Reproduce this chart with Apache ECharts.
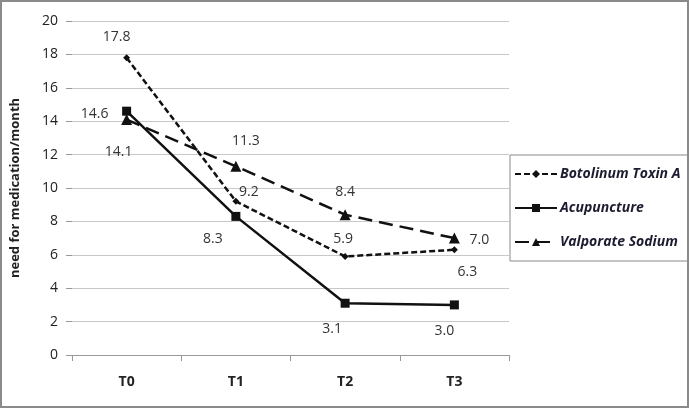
<!DOCTYPE html>
<html>
<head>
<meta charset="utf-8">
<script src="https://cdn.jsdelivr.net/npm/echarts@6/dist/echarts.min.js"></script>
<style>
html,body{margin:0;padding:0;background:#fff;}
#frame{position:absolute;left:0;top:0;width:685px;height:404px;border:2px solid #8a8a8a;}
#chart{position:absolute;left:0;top:0;width:689px;height:408px;}
</style>
</head>
<body>
<div id="frame"></div>
<div id="chart"></div>
<script>
const categories = ['T0', 'T1', 'T2', 'T3'];
const botulinum = [17.8, 9.2, 5.9, 6.3];
const acupuncture = [14.6, 8.3, 3.1, 3.0];
const valporate = [14.1, 11.3, 8.4, 7.0];
const yTicks = [0, 2, 4, 6, 8, 10, 12, 14, 16, 18, 20];

// label offsets (styling, pixels)
const offBot = [[-10,-21],[13,-9],[-2,-17],[13,22]];
const offAcu = [[-32,3],[-23,23],[-13,26],[-10,26]];
const offVal = [[-8,32],[10,-25],[0,-23],[25,2]];

const FONT = '"Open Sans", Lato, sans-serif';

function mk(vals, offs){
  return vals.map((v,i)=>({
    value: v,
    label: {show:true, position:'inside', offset: offs[i],
      formatter: (p)=>p.value.toFixed(1),
      color:'#333', fontSize:14, fontFamily:FONT}
  }));
}

const chart = echarts.init(document.getElementById('chart'));
chart.setOption({
  animation:false,
  backgroundColor:'transparent',
  grid:{left:72, top:21, width:437, height:334, containLabel:false},
  legend:{
    orient:'vertical', left:510, top:155, width:200,
    itemWidth:42, itemHeight:10, itemGap:20,
    padding:[12,30,12,4],
    borderColor:'#8a8a8a', borderWidth:1,
    textStyle:{fontStyle:'italic', fontWeight:'bold', fontSize:14, color:'#1c1c30', fontFamily:FONT, padding:[0,0,0,-2]},
    data:['Botolinum Toxin A','Acupuncture','Valporate Sodium']
  },
  xAxis:{
    type:'category', data:categories, boundaryGap:true,
    axisLine:{lineStyle:{color:'#999', width:1}},
    axisTick:{show:true, length:6, lineStyle:{color:'#999'}},
    axisLabel:{color:'#222', fontWeight:'bold', fontSize:14, margin:20, fontFamily:FONT}
  },
  yAxis:{
    type:'value', min:0, max:20, interval:2,
    name:'need for medication/month', nameLocation:'middle', nameGap:50,
    nameTextStyle:{fontWeight:'bold', fontSize:13, color:'#222', fontFamily:FONT},
    axisLine:{show:false},
    axisTick:{show:true, length:6, lineStyle:{color:'#999'}},
    axisLabel:{color:'#222', fontSize:14, margin:14, fontFamily:FONT,
      formatter:(v)=> yTicks.includes(v) ? String(v) : ''},
    splitLine:{lineStyle:{color:'#c8c8c8', width:1}}
  },
  series:[
    {name:'Botolinum Toxin A', type:'line', data:mk(botulinum, offBot),
     symbol:'diamond', symbolSize:7, itemStyle:{color:'#111'},
     lineStyle:{color:'#111', width:2.5, type:[6,3]}},
    {name:'Acupuncture', type:'line', data:mk(acupuncture, offAcu),
     symbol:'rect', symbolSize:9, itemStyle:{color:'#111'},
     lineStyle:{color:'#111', width:2.5, type:'solid'}},
    {name:'Valporate Sodium', type:'line', data:mk(valporate, offVal),
     symbol:'triangle', symbolSize:11, itemStyle:{color:'#111'},
     lineStyle:{color:'#111', width:2.5, type:[14,7]}}
  ]
});
</script>
</body>
</html>
